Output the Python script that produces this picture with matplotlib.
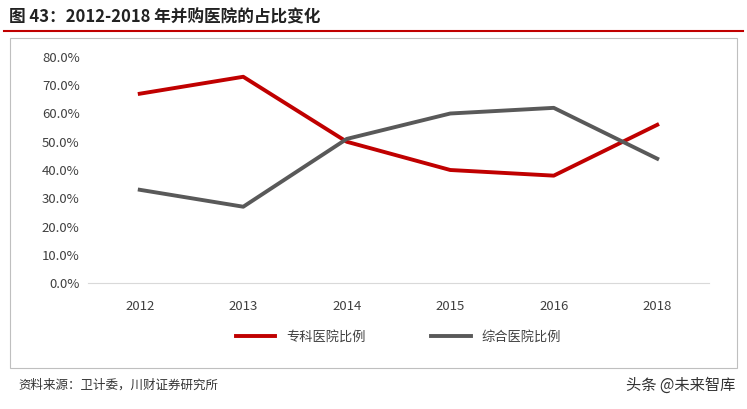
import matplotlib
matplotlib.use("Agg")
import matplotlib.pyplot as plt
from matplotlib.patches import Rectangle
from matplotlib.lines import Line2D

plt.rcParams['font.family'] = ['Noto Sans CJK SC', 'DejaVu Sans']

years = ['2012', '2013', '2014', '2015', '2016', '2018']
specialty = [67, 73, 50, 40, 38, 56]
general = [33, 27, 51, 60, 62, 44]
yticks = [0, 10, 20, 30, 40, 50, 60, 70, 80]

fig = plt.figure(figsize=(7.47, 4.09), dpi=100)
fig.patches.append(Rectangle((10/747, 1-368/409), 727/747, 330/409, transform=fig.transFigure,
                             fill=False, edgecolor='#bfbfbf', linewidth=0.8))
fig.lines.append(Line2D([0.005, 0.995], [1-31/409, 1-31/409], transform=fig.transFigure, color='#c00000', linewidth=1.5))
fig.text(0.012, 1-17/409, '图 43：2012-2018 年并购医院的占比变化', fontsize=12, fontweight='bold', va='center', color='#222222')

ax = fig.add_axes([88/747, 1-283/409, 621/747, 226/409])
x = range(len(years))
ax.plot(x, specialty, color='#c00000', linewidth=2.8, label='专科医院比例')
ax.plot(x, general, color='#595959', linewidth=2.8, label='综合医院比例')
ax.set_xlim(-0.5, len(years)-0.5)
ax.set_ylim(0, 80)
ax.set_yticks(yticks)
ax.set_yticklabels([f'{v:.1f}%' for v in yticks], fontsize=9.5, color='#404040')
ax.set_xticks(list(x))
ax.set_xticklabels(years, fontsize=9.5, color='#404040')
for s in ['top', 'right', 'left']:
    ax.spines[s].set_visible(False)
ax.spines['bottom'].set_color('#d9d9d9')
ax.tick_params(length=0, pad=6)
ax.tick_params(axis='x', pad=12)
ax.legend(loc='upper center', bbox_to_anchor=(0.5, -0.16), ncol=2, frameon=False, fontsize=9.5,
          handlelength=3, columnspacing=5, labelcolor='#404040')

fig.text(0.025, 1-385/409, '资料来源：卫计委，川财证券研究所', fontsize=9, style='italic', va='center', color='#333333')
fig.text(0.985, 1-385/409, '头条 @未来智库', fontsize=11, ha='right', va='center', color='#333333')
fig.savefig('out.png', dpi=100)
